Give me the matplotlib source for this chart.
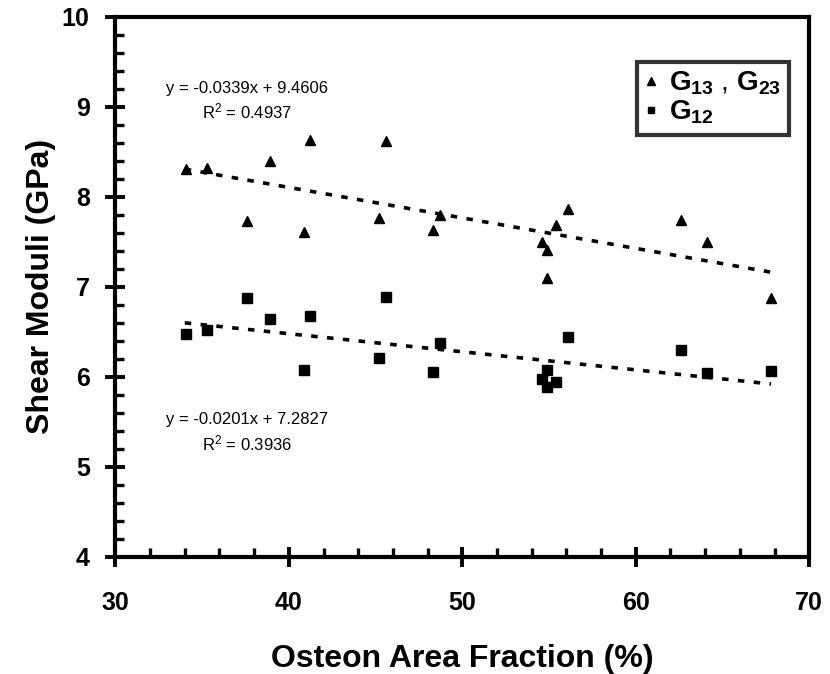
import matplotlib
matplotlib.use("Agg")
import matplotlib.pyplot as plt
from matplotlib.ticker import MultipleLocator

plt.rcParams['font.family'] = ['Liberation Sans', 'DejaVu Sans']
plt.rcParams['mathtext.fontset'] = 'custom'
plt.rcParams['mathtext.rm'] = 'Liberation Sans'
plt.rcParams['mathtext.it'] = 'Liberation Sans:italic'
plt.rcParams['mathtext.bf'] = 'Liberation Sans:bold'

# osteon area fraction (%) of each specimen
osteon_frac = [34.1, 35.3, 37.6, 38.9, 40.9, 41.2, 45.2, 45.6, 48.3,
               48.7, 54.6, 54.9, 54.9, 55.4, 56.1, 62.6, 64.1, 67.8]
# G13, G23 (GPa)
g13_g23 = [8.31, 8.32, 7.73, 8.40, 7.61, 8.63, 7.76, 8.62, 7.63,
           7.80, 7.50, 7.41, 7.10, 7.69, 7.86, 7.74, 7.50, 6.88]
# G12 (GPa)
g12 = [6.47, 6.52, 6.88, 6.64, 6.07, 6.67, 6.21, 6.89, 6.05,
       6.37, 5.98, 6.07, 5.89, 5.94, 6.44, 6.30, 6.04, 6.06]

# linear trendlines as printed on the chart
fit_top = (-0.0339, 9.4606, 0.4937)
fit_bot = (-0.0201, 7.2827, 0.3936)
fit_range = [34.0, 67.8]

fig = plt.figure(figsize=(8.3, 6.74), dpi=100)
ax = fig.add_axes([0.139, 0.174, 0.836, 0.801])

ax.plot(osteon_frac, g13_g23, '^', color='black', markersize=7.5,
        label=r'$\mathbf{G_{13}}$ , $\mathbf{G_{23}}$', zorder=3)
ax.plot(osteon_frac, g12, 's', color='black', markersize=7,
        label=r'$\mathbf{G_{12}}$', zorder=3)

for m, b, r2 in [fit_top, fit_bot]:
    ax.plot(fit_range, [m * x + b for x in fit_range], color='black',
            linestyle=(0, (1.8, 2.6)), linewidth=2.6, dash_capstyle='butt')

eq_font = 12
ax.text(0.19, 0.868, 'y = %.4fx + %.4f' % fit_top[:2], transform=ax.transAxes,
        ha='center', va='center', fontsize=eq_font)
ax.text(0.19, 0.825, 'R$^2$ = %.4f' % fit_top[2], transform=ax.transAxes,
        ha='center', va='center', fontsize=eq_font)
ax.text(0.19, 0.255, 'y = %.4fx + %.4f' % fit_bot[:2], transform=ax.transAxes,
        ha='center', va='center', fontsize=eq_font)
ax.text(0.19, 0.209, 'R$^2$ = %.4f' % fit_bot[2], transform=ax.transAxes,
        ha='center', va='center', fontsize=eq_font)

ax.set_xlim(30, 70)
ax.set_ylim(4, 10)
ax.xaxis.set_major_locator(MultipleLocator(10))
ax.xaxis.set_minor_locator(MultipleLocator(2))
ax.yaxis.set_major_locator(MultipleLocator(1))
ax.yaxis.set_minor_locator(MultipleLocator(0.2))
ax.tick_params(which='major', direction='inout', length=15, width=2.8,
               labelsize=18)
ax.tick_params(axis='x', which='major', pad=17)
ax.tick_params(axis='y', which='major', pad=11)
ax.tick_params(which='minor', direction='in', length=6.5, width=2.4)
for lab in ax.get_xticklabels() + ax.get_yticklabels():
    lab.set_fontweight('bold')
for s in ax.spines.values():
    s.set_linewidth(3)

ax.set_xlabel('Osteon Area Fraction (%)', fontsize=23, fontweight='bold', labelpad=21)
ax.set_ylabel('Shear Moduli (GPa)', fontsize=23, fontweight='bold', labelpad=4)

leg = ax.legend(loc='upper right', bbox_to_anchor=(0.971, 0.917), fontsize=20,
                frameon=True, fancybox=False, edgecolor='black', handlelength=0.4,
                handletextpad=0.45, borderpad=0.3, labelspacing=0.05, markerscale=0.7,
                borderaxespad=0)
leg.get_frame().set_linewidth(3)

fig.savefig('out.png', dpi=100)
